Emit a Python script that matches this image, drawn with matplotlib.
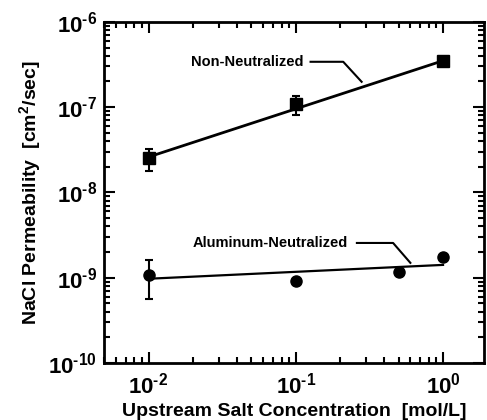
import matplotlib
matplotlib.use('Agg')
from matplotlib import pyplot as plt
from matplotlib.ticker import LogLocator, NullFormatter

plt.rcParams['font.family'] = ['Liberation Sans', 'DejaVu Sans']
plt.rcParams['font.weight'] = 'bold'
plt.rcParams['mathtext.fontset'] = 'custom'
plt.rcParams['mathtext.rm'] = 'Liberation Sans:bold'
plt.rcParams['mathtext.bf'] = 'Liberation Sans:bold'
plt.rcParams['mathtext.default'] = 'rm'

# Non-neutralized membrane
conc_non = [0.01, 0.1, 1.0]
perm_non = [2.55e-8, 1.08e-7, 3.5e-7]
err_lo_non = [0.75e-8, 0.27e-7, 0.3e-7]
err_hi_non = [0.7e-8, 0.28e-7, 0.3e-7]

# Aluminum-neutralized membrane
conc_al = [0.01, 0.1, 0.5, 1.0]
perm_al = [1.08e-9, 9.2e-10, 1.17e-9, 1.74e-9]
err_lo_al = [0.52e-9, 0, 0, 0]
err_hi_al = [0.54e-9, 0, 0, 0]

# fitted trend lines
fit_x = [0.01, 1.0]
fit_non = [2.6e-8, 3.5e-7]
fit_al = [9.7e-10, 1.41e-9]

xticks = [0.01, 0.1, 1.0]
xtick_labels = [r'10$^{\text{-2}}$', r'10$^{\text{-1}}$', r'10$^{\text{0}}$']
yticks = [1e-10, 1e-9, 1e-8, 1e-7, 1e-6]
ytick_labels = [r'10$^{\text{-10}}$', r'10$^{\text{-9}}$', r'10$^{\text{-8}}$',
                r'10$^{\text{-7}}$', r'10$^{\text{-6}}$']

fig = plt.figure(figsize=(4.87, 4.2), dpi=100)
ax = fig.add_axes([0.214, 0.136, 0.78, 0.812])

ax.plot(fit_x, fit_non, c='black', lw=2)
ax.plot(fit_x, fit_al, c='black', lw=1.6)
ax.errorbar(conc_non, perm_non, yerr=[err_lo_non, err_hi_non], fmt='s', c='black',
            ms=8, capsize=3, elinewidth=1.5, capthick=1.5)
ax.errorbar(conc_al, perm_al, yerr=[err_lo_al, err_hi_al], fmt='o', c='black',
            ms=8, capsize=3, elinewidth=1.5, capthick=1.5)

ax.set_xscale('log')
ax.set_yscale('log')
ax.set_xlim(0.005, 1.9)
ax.set_ylim(1e-10, 1e-6)
ax.set_xticks(xticks, xtick_labels)
ax.set_yticks(yticks, ytick_labels)
ax.xaxis.set_minor_locator(LogLocator(base=10, subs=range(2, 10)))
ax.yaxis.set_minor_locator(LogLocator(base=10, subs=range(2, 10)))
ax.xaxis.set_minor_formatter(NullFormatter())
ax.yaxis.set_minor_formatter(NullFormatter())

ax.tick_params(which='both', direction='in', top=True, right=True, width=1.5)
ax.tick_params(which='major', length=8, labelsize=16)
ax.tick_params(which='minor', length=4)
ax.tick_params(axis='x', which='major', pad=7)
ax.tick_params(axis='y', which='major', pad=5)
for s in ax.spines.values():
    s.set_linewidth(2)

ax.set_xlabel('Upstream Salt Concentration  [mol/L]', fontsize=14, fontweight='bold', labelpad=3)
ax.set_ylabel('NaCl Permeability  [cm$^2$/sec]', fontsize=14, fontweight='bold', labelpad=4)

ax.text(0.0193, 3.4e-7, 'Non-Neutralized', fontsize=10.5, fontweight='bold', ha='left', va='center')
ax.plot([0.126, 0.21, 0.28], [3.4e-7, 3.4e-7, 1.98e-7], c='black', lw=1.5)
ax.text(0.0199, 2.55e-9, 'Aluminum-Neutralized', fontsize=10.5, fontweight='bold', ha='left', va='center')
ax.plot([0.26, 0.458, 0.6], [2.55e-9, 2.55e-9, 1.49e-9], c='black', lw=1.5)

fig.savefig('out.png', dpi=100)
